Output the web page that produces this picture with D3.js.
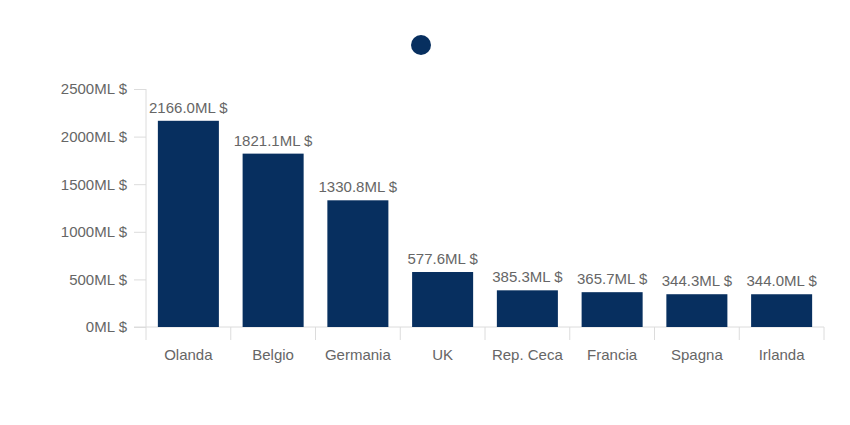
<!DOCTYPE html>
<html><head><meta charset="utf-8">
<script src="https://cdn.jsdelivr.net/npm/d3@7"></script>
<style>body{margin:0;background:#fff;} text{font-family:"Liberation Sans",Arial,sans-serif;}</style>
</head><body><svg id="c" width="850" height="425"></svg>
<script>
const categories = ["Olanda","Belgio","Germania","UK","Rep. Ceca","Francia","Spagna","Irlanda"];
const values = [2166.0,1821.1,1330.8,577.6,385.3,365.7,344.3,344.0];
const yTicks = [0,500,1000,1500,2000,2500];

const svg = d3.select("#c");
const m = {l:146, r:824, t:89, b:327};
const x = d3.scaleBand().domain(categories).range([m.l, m.r]).paddingInner(0.28).paddingOuter(0.14);
const y = d3.scaleLinear().domain([0,2500]).range([m.b, m.t]);
const axisCol = "#dcdcdc", textCol = "#666";

// y axis
const ya = svg.append("g").attr("transform",`translate(${m.l},0)`)
  .call(d3.axisLeft(y).tickValues(yTicks).tickSize(12).tickPadding(7).tickFormat(d=>d+"ML $"));
ya.select(".domain").attr("stroke",axisCol).attr("d",`M0,${m.t}V${m.b}`);
ya.selectAll(".tick line").attr("stroke",axisCol);
ya.selectAll("text").attr("fill",textCol).style("font-size","15px");

// x axis with category boundary ticks
const xa = svg.append("g").attr("transform",`translate(0,${m.b})`);
xa.append("line").attr("x1",m.l-12).attr("x2",m.r).attr("stroke",axisCol);
const bounds = categories.map((c,i)=>m.l + i*(m.r-m.l)/categories.length).concat([m.r]);
xa.selectAll(".bt").data(bounds).enter().append("line")
  .attr("x1",d=>d).attr("x2",d=>d).attr("y1",0).attr("y2",13).attr("stroke",axisCol);
xa.selectAll(".lbl").data(categories).enter().append("text")
  .attr("x",d=>x(d)+x.bandwidth()/2).attr("y",33).attr("text-anchor","middle")
  .attr("fill",textCol).style("font-size","15px").text(d=>d);

// bars
svg.selectAll(".bar").data(values).enter().append("rect")
  .attr("x",(d,i)=>x(categories[i])).attr("width",x.bandwidth())
  .attr("y",d=>y(d)).attr("height",d=>y(0)-y(d)).attr("fill","#072f5f");

svg.selectAll(".val").data(values).enter().append("text")
  .attr("x",(d,i)=>x(categories[i])+x.bandwidth()/2).attr("y",d=>y(d)-8)
  .attr("text-anchor","middle").attr("fill",textCol).style("font-size","15px")
  .text(d=>d.toFixed(1)+"ML $");

// legend marker
svg.append("circle").attr("cx",421).attr("cy",45).attr("r",10).attr("fill","#072f5f");
</script></body></html>
